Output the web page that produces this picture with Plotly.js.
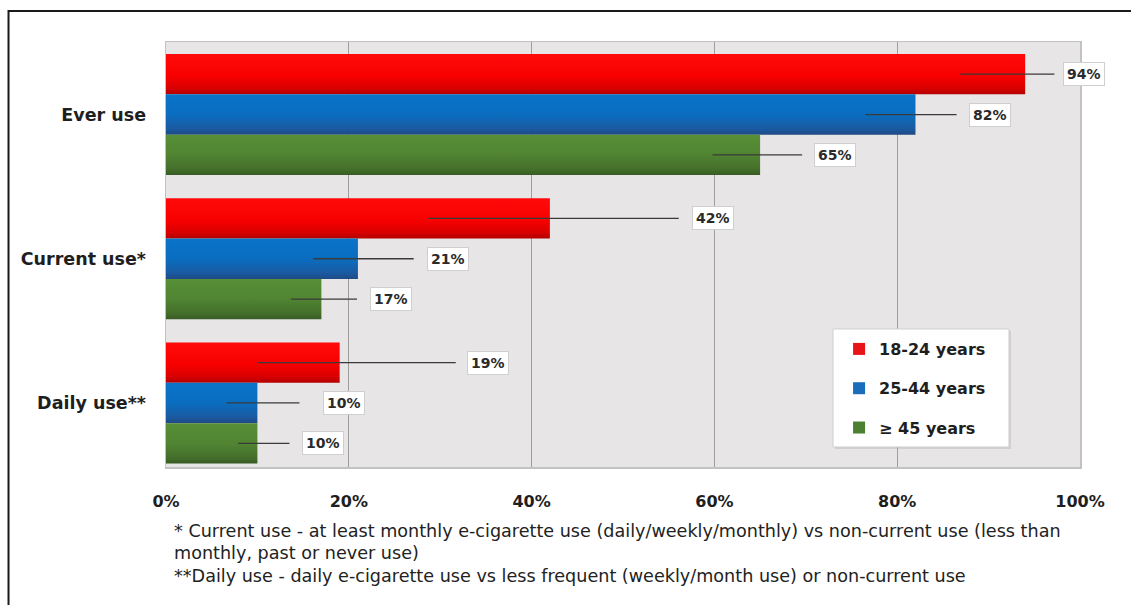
<!DOCTYPE html>
<html>
<head>
<meta charset="utf-8">
<script src="https://cdn.plot.ly/plotly-3.0.1.min.js"></script>
<style>
  html, body { margin: 0; padding: 0; background: #ffffff; }
  #chart { width: 1131px; height: 605px; }
</style>
</head>
<body>
<div id="chart"></div>
<script>
// ---- data ----
const categories = ['Ever use', 'Current use*', 'Daily use**'];
const seriesNames = ['18-24 years', '25-44 years', '\u2265 45 years'];
const age18to24 = [94, 42, 19];
const age25to44 = [82, 21, 10];
const age45plus = [65, 17, 10];
const xTicks = [0, 20, 40, 60, 80, 100];
const xTickLabels = ['0%', '20%', '40%', '60%', '80%', '100%'];
const footnotes = [
  '* Current use - at least monthly e-cigarette use (daily/weekly/monthly) vs non-current use (less than',
  'monthly, past or never use)',
  '**Daily use - daily e-cigarette use vs less frequent (weekly/month use) or non-current use'
];

// ---- styling ----
const flatColors = ['#e8141a', '#1b6dbb', '#4b7f31'];
const gradientStops = [
  [[0, '#ff0a0a'], [0.55, '#f80000'], [0.85, '#d80000'], [1, '#b30000']],
  [[0, '#0a74c9'], [0.5, '#0a6dbf'], [0.85, '#1a5aa2'], [1, '#1f4a84']],
  [[0, '#578f36'], [0.5, '#508432'], [0.85, '#446f2b'], [1, '#385a24']]
];
// leader line start / end and label left edge, in axis units, per series
const leaderFrom = [[86.9, 28.7, 10.0], [76.5, 16.1, 6.6], [59.8, 13.7, 7.9]];
const leaderTo   = [[97.2, 56.1, 31.7], [86.5, 27.1, 14.6], [69.6, 20.9, 13.5]];
const labelLeft  = [[98.1, 57.5, 32.9], [87.9, 28.6, 17.2], [70.9, 22.3, 14.9]];
const barSlot = 0.28;

const seriesValues = [age18to24, age25to44, age45plus];
const groupPos = categories.map((_, i) => i);

const BOLD = 'DejaVu Sans';
const data = seriesValues.map((vals, s) => ({
  type: 'bar',
  orientation: 'h',
  name: seriesNames[s],
  legendgroup: 'g' + s,
  x: vals,
  y: groupPos,
  marker: { color: flatColors[s], line: { width: 0 } },
  hoverinfo: 'skip'
}));

const shapes = [];
const annotations = [];
seriesValues.forEach((vals, s) => {
  vals.forEach((v, g) => {
    const yc = groupPos[g] + (s - 1) * barSlot;
    shapes.push({
      type: 'line', xref: 'x', yref: 'y',
      x0: leaderFrom[s][g], x1: leaderTo[s][g], y0: yc, y1: yc,
      line: { color: '#3a3a3a', width: 1.3 }, layer: 'above'
    });
    annotations.push({
      xref: 'x', yref: 'y', x: labelLeft[s][g], y: yc,
      xanchor: 'left', yanchor: 'middle',
      text: v + '%', showarrow: false,
      font: { family: BOLD, size: 14, color: '#2a2a2a', weight: 'bold' },
      bgcolor: '#ffffff', bordercolor: '#cfcfcf', borderwidth: 1, borderpad: 3
    });
  });
});

// legend panel
shapes.push({
  type: 'rect', xref: 'paper', yref: 'paper',
  x0: 0.7320, x1: 0.9245, y0: 0.0424, y1: 0.3200,
  fillcolor: 'rgba(160,160,160,0.3)', line: { width: 0 }, layer: 'above'
});
shapes.push({
  type: 'rect', xref: 'paper', yref: 'paper',
  x0: 0.7298, x1: 0.9223, y0: 0.0471, y1: 0.3247,
  fillcolor: '#ffffff', line: { color: '#cfcfcf', width: 1 }, layer: 'above'
});
// outer frame
shapes.push({
  type: 'rect', xref: 'paper', yref: 'paper',
  x0: -0.1723, x1: 1.2, y0: -0.5, y1: 1.0729,
  fillcolor: 'rgba(0,0,0,0)', line: { color: '#1a1a1a', width: 2 }, layer: 'above'
});

const footY = [-0.1506, -0.2024, -0.2565];
footnotes.forEach((t, i) => {
  annotations.push({
    xref: 'paper', yref: 'paper', x: 0.0066, y: footY[i],
    xanchor: 'left', yanchor: 'middle', showarrow: false, text: t,
    font: { family: 'DejaVu Sans', size: 17.6, color: '#222222' }
  });
});

const layout = {
  width: 1131, height: 605,
  margin: { l: 166, r: 51, t: 42, b: 138 },
  paper_bgcolor: '#ffffff',
  plot_bgcolor: '#e7e5e5',
  barmode: 'group',
  bargap: 0.16,
  bargroupgap: 0,
  showlegend: true,
  legend: {
    x: 0.7364, y: 0.3176, xanchor: 'left', yanchor: 'top',
    bgcolor: 'rgba(0,0,0,0)', borderwidth: 0,
    traceorder: 'grouped', tracegroupgap: 15.5,
    font: { family: BOLD, size: 16, color: '#1e1e1e', weight: 'bold' }
  },
  xaxis: {
    range: [0, 100], tickmode: 'array', tickvals: xTicks, ticktext: xTickLabels,
    showgrid: true, gridcolor: '#9e9e9e', gridwidth: 1,
    zeroline: false, showline: true, mirror: true, linecolor: '#c2c2c2', linewidth: 1.5,
    ticks: 'outside', ticklen: 19, tickcolor: 'rgba(0,0,0,0)',
    tickfont: { family: BOLD, size: 16, color: '#1e1e1e', weight: 'bold' },
    fixedrange: true
  },
  yaxis: {
    range: [2.444, -0.503], tickvals: groupPos, ticktext: categories,
    showgrid: false, zeroline: false, showline: true, mirror: true,
    linecolor: '#c2c2c2', linewidth: 1.5,
    ticks: 'outside', ticklen: 15, tickcolor: 'rgba(0,0,0,0)',
    tickfont: { family: BOLD, size: 17.5, color: '#1e1e1e', weight: 'bold' },
    fixedrange: true
  },
  shapes: shapes,
  annotations: annotations
};

const gd = document.getElementById('chart');

function shadeBars() {
  const NS = 'http://www.w3.org/2000/svg';
  const svg = gd.querySelector('svg.main-svg');
  let defs = svg.querySelector('defs');
  if (!defs) { defs = document.createElementNS(NS, 'defs'); svg.insertBefore(defs, svg.firstChild); }
  gradientStops.forEach((stops, i) => {
    const grad = document.createElementNS(NS, 'linearGradient');
    grad.setAttribute('id', 'barFill' + i);
    grad.setAttribute('x1', '0'); grad.setAttribute('y1', '0');
    grad.setAttribute('x2', '0'); grad.setAttribute('y2', '1');
    stops.forEach(([o, c]) => {
      const st = document.createElementNS(NS, 'stop');
      st.setAttribute('offset', o);
      st.setAttribute('stop-color', c);
      grad.appendChild(st);
    });
    defs.appendChild(grad);
  });
  gd.querySelectorAll('.barlayer .trace').forEach((tr, i) => {
    tr.querySelectorAll('path').forEach(p => { p.style.fill = 'url(#barFill' + i + ')'; });
  });
}

Plotly.newPlot(gd, data, layout, { displayModeBar: false, staticPlot: true }).then(shadeBars);
</script>
</body>
</html>
